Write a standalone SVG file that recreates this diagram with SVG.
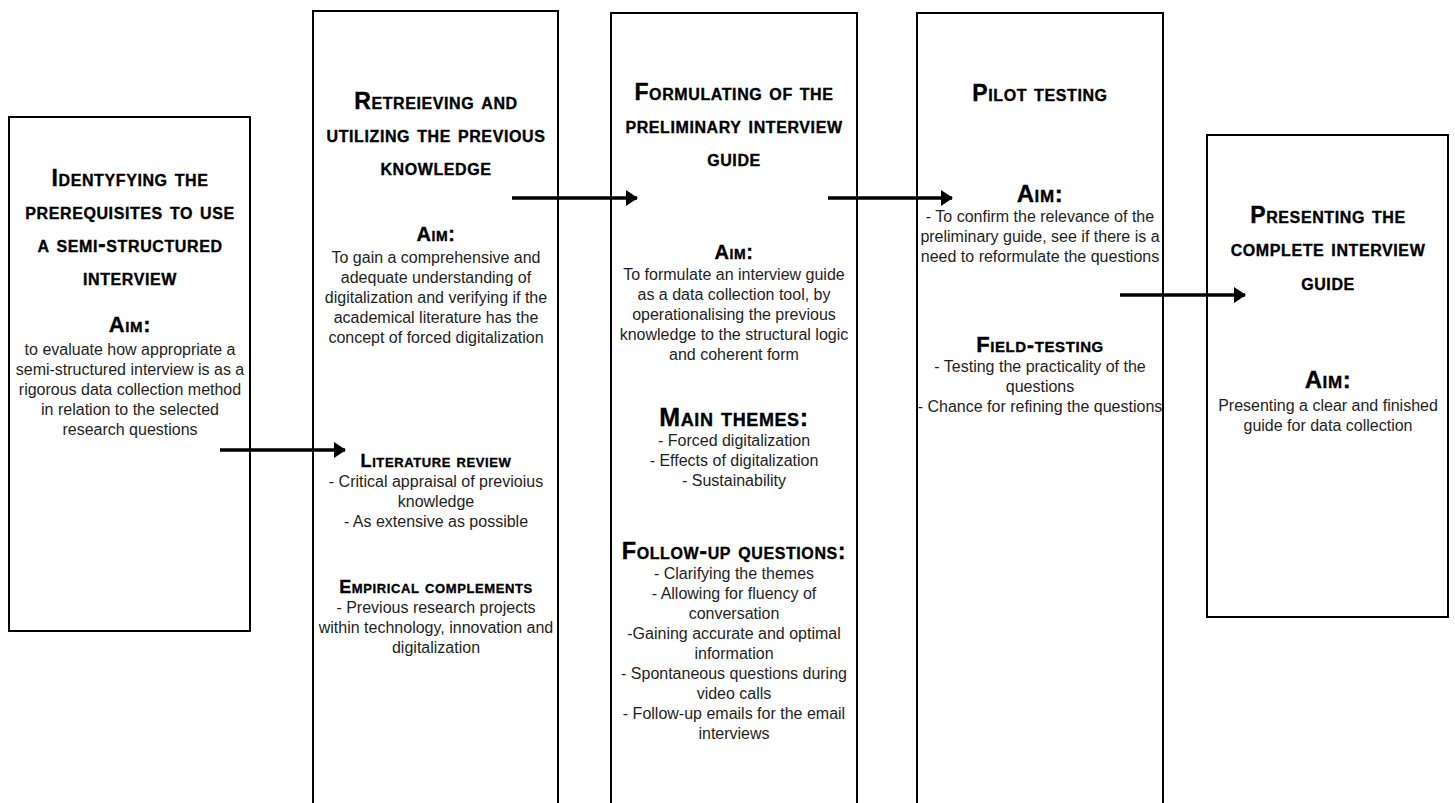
<svg xmlns="http://www.w3.org/2000/svg" width="1455" height="803" viewBox="0 0 1455 803">
  <defs>
    <marker id="head" viewBox="0 0 12 16" refX="11" refY="8" markerWidth="12" markerHeight="16" markerUnits="userSpaceOnUse" orient="auto">
      <path d="M0,0 L12,8 L0,16 Z" fill="#000"/>
    </marker>
    <style>
      .box { fill: #fff; stroke: #000; stroke-width: 2; }
      .hd { font-family: "Liberation Sans", Arial, sans-serif; font-weight: bold; font-variant: small-caps; letter-spacing: 0.6px; fill: #000; stroke: #000; stroke-width: 0.35; text-anchor: middle; font-size: 23px; }
      .aim { font-family: "Liberation Sans", Arial, sans-serif; font-weight: bold; font-variant: small-caps; letter-spacing: 0.6px; fill: #000; stroke: #000; stroke-width: 0.35; text-anchor: middle; }
      .tx { font-family: "Liberation Sans", Arial, sans-serif; font-size: 16px; fill: #1e1e1e; text-anchor: middle; }
      .link { stroke: #000; stroke-width: 3.5; fill: none; marker-end: url(#head); }
    </style>
  </defs>
  <rect width="1455" height="803" fill="#fff"/>

  <!-- step 1 -->
  <g id="step-prerequisites">
    <rect class="box" x="9" y="117" width="241" height="514"/>
    <text class="hd" x="130" y="186">Identyfying the</text>
    <text class="hd" x="130" y="219">prerequisites to use</text>
    <text class="hd" x="130" y="252">a semi-structured</text>
    <text class="hd" x="130" y="285">interview</text>
    <text class="aim" x="130" y="332" font-size="22">Aim:</text>
    <text class="tx" x="130" y="355">to evaluate how appropriate a</text>
    <text class="tx" x="130" y="375">semi-structured interview is as a</text>
    <text class="tx" x="130" y="395">rigorous data collection method</text>
    <text class="tx" x="130" y="415">in relation to the selected</text>
    <text class="tx" x="130" y="435">research questions</text>
  </g>

  <!-- step 2 -->
  <g id="step-previous-knowledge">
    <rect class="box" x="313" y="11" width="245" height="820"/>
    <text class="hd" x="436" y="109">Retreieving and</text>
    <text class="hd" x="436" y="142">utilizing the previous</text>
    <text class="hd" x="436" y="175">knowledge</text>
    <text class="aim" x="436" y="241" font-size="20">Aim:</text>
    <text class="tx" x="436" y="263">To gain a comprehensive and</text>
    <text class="tx" x="436" y="283">adequate understanding of</text>
    <text class="tx" x="436" y="303">digitalization and verifying if the</text>
    <text class="tx" x="436" y="323">academical literature has the</text>
    <text class="tx" x="436" y="343">concept of forced digitalization</text>
    <text class="aim" x="436" y="467" font-size="18">Literature review</text>
    <text class="tx" x="436" y="487">- Critical appraisal of previoius</text>
    <text class="tx" x="436" y="507">knowledge</text>
    <text class="tx" x="436" y="527">- As extensive as possible</text>
    <text class="aim" x="436" y="593" font-size="18">Empirical complements</text>
    <text class="tx" x="436" y="613">- Previous research projects</text>
    <text class="tx" x="436" y="633">within technology, innovation and</text>
    <text class="tx" x="436" y="653">digitalization</text>
  </g>

  <!-- step 3 -->
  <g id="step-preliminary-guide">
    <rect class="box" x="611" y="13" width="246" height="820"/>
    <text class="hd" x="734" y="100">Formulating of the</text>
    <text class="hd" x="734" y="133">preliminary interview</text>
    <text class="hd" x="734" y="166">guide</text>
    <text class="aim" x="734" y="259" font-size="20">Aim:</text>
    <text class="tx" x="734" y="280">To formulate an interview guide</text>
    <text class="tx" x="734" y="300">as a data collection tool, by</text>
    <text class="tx" x="734" y="320">operationalising the previous</text>
    <text class="tx" x="734" y="340">knowledge to the structural logic</text>
    <text class="tx" x="734" y="360">and coherent form</text>
    <text class="aim" x="734" y="426" font-size="25">Main themes:</text>
    <text class="tx" x="734" y="446">- Forced digitalization</text>
    <text class="tx" x="734" y="466">- Effects of digitalization</text>
    <text class="tx" x="734" y="486">- Sustainability</text>
    <text class="aim" x="734" y="559" font-size="23.5">Follow-up questions:</text>
    <text class="tx" x="734" y="579">- Clarifying the themes</text>
    <text class="tx" x="734" y="599">- Allowing for fluency of</text>
    <text class="tx" x="734" y="619">conversation</text>
    <text class="tx" x="734" y="639">-Gaining accurate and optimal</text>
    <text class="tx" x="734" y="659">information</text>
    <text class="tx" x="734" y="679">- Spontaneous questions during</text>
    <text class="tx" x="734" y="699">video calls</text>
    <text class="tx" x="734" y="719">- Follow-up emails for the email</text>
    <text class="tx" x="734" y="739">interviews</text>
  </g>

  <!-- step 4 -->
  <g id="step-testing">
    <rect class="box" x="917" y="13" width="246" height="820"/>
    <text class="hd" x="1040" y="101">Pilot testing</text>
    <text class="aim" x="1040" y="202" font-size="24">Aim:</text>
    <text class="tx" x="1040" y="222">- To confirm the relevance of the</text>
    <text class="tx" x="1040" y="242">preliminary guide, see if there is a</text>
    <text class="tx" x="1040" y="262">need to reformulate the questions</text>
    <text class="aim" x="1040" y="352" font-size="22">Field-testing</text>
    <text class="tx" x="1040" y="372">- Testing the practicality of the</text>
    <text class="tx" x="1040" y="392">questions</text>
    <text class="tx" x="1040" y="412">- Chance for refining the questions</text>
  </g>

  <!-- step 5 -->
  <g id="step-complete-guide">
    <rect class="box" x="1207" y="135" width="241" height="482"/>
    <text class="hd" x="1328" y="223">Presenting the</text>
    <text class="hd" x="1328" y="256">complete interview</text>
    <text class="hd" x="1328" y="290">guide</text>
    <text class="aim" x="1328" y="388" font-size="24">Aim:</text>
    <text class="tx" x="1328" y="411">Presenting a clear and finished</text>
    <text class="tx" x="1328" y="431">guide for data collection</text>
  </g>

  <!-- flow arrows between steps -->
  <g id="connectors">
    <line class="link" x1="220" y1="450" x2="345" y2="450"/>
    <line class="link" x1="512" y1="198" x2="637" y2="198"/>
    <line class="link" x1="828" y1="198" x2="952" y2="198"/>
    <line class="link" x1="1120" y1="295" x2="1245" y2="295"/>
  </g>
</svg>
